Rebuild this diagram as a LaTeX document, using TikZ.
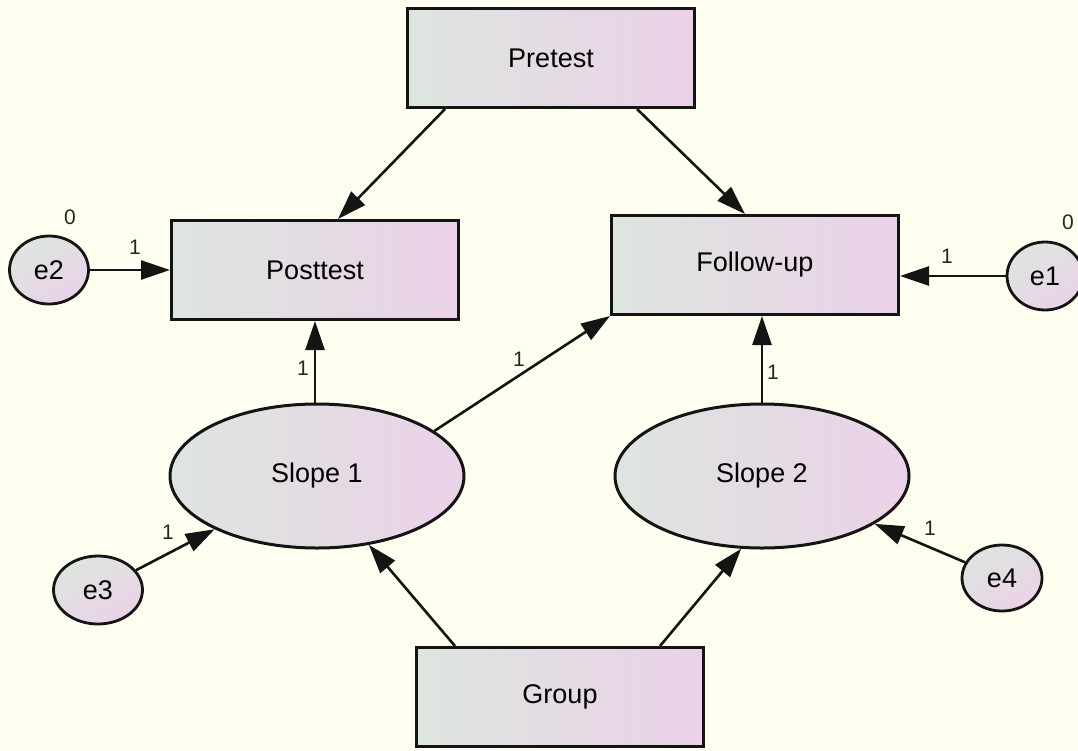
\documentclass[tikz,border=0pt]{standalone}
\usepackage{fontspec}
\setmainfont{Liberation Sans}
\usetikzlibrary{shapes.geometric,arrows.meta}
\definecolor{bgpaper}{RGB}{255,255,240}
\definecolor{shadeL}{RGB}{221,229,223}
\definecolor{shadeR}{RGB}{235,210,232}
\definecolor{inkline}{RGB}{20,20,20}
\tikzset{
  obsbox/.style={rectangle, draw=inkline, line width=3pt, left color=shadeL, right color=shadeR,
    minimum width=287pt, minimum height=99pt, inner sep=0pt, font=\fontsize{27}{32}\selectfont},
  latent/.style={ellipse, draw=inkline, line width=3pt, left color=shadeL, right color=shadeR,
    minimum width=294pt, minimum height=144pt, inner sep=0pt, font=\fontsize{27}{32}\selectfont},
  errnode/.style={ellipse, draw=inkline, line width=2.8pt, left color=shadeL, right color=shadeR,
    shading angle=30, inner sep=0pt, font=\fontsize{27}{32}\selectfont},
  lbl/.style={inner sep=0pt, text=black!85, font=\fontsize{21}{24}\selectfont},
  path/.style={draw=inkline, line width=2.6pt, -{Triangle[length=29pt,width=19pt]}},
}
\begin{document}
\begin{tikzpicture}[x=1pt,y=-1pt]
  \fill[bgpaper] (0,0) rectangle (1078,750);
  \useasboundingbox (0,0) rectangle (1078,750);

  % observed variables
  \node[obsbox] (pre)  at (551,58)  {Pretest};
  \node[obsbox] (post) at (315,270) {Posttest};
  \node[obsbox] (fu)   at (755,265) {Follow-up};
  \node[obsbox] (grp)  at (560,697) {Group};

  % latent slopes
  \node[latent] (s1) at (317,476) {Slope 1};
  \node[latent] (s2) at (762,476) {Slope 2};

  % error terms
  \node[errnode, minimum width=79pt, minimum height=68pt] (e2) at (49,270)  {e2};
  \node[errnode, minimum width=76pt, minimum height=68pt] (e1) at (1045,276) {e1};
  \node[errnode, minimum width=89pt, minimum height=68pt] (e3) at (98,590)  {e3};
  \node[errnode, minimum width=80pt, minimum height=66pt] (e4) at (1002,578) {e4};

  % regression paths
  \draw[path] ([xshift=-106pt]pre.south) -- ([xshift=23pt]post.north);
  \draw[path] ([xshift=86pt]pre.south) -- ([xshift=-10pt]fu.north);
  \draw[path] (e2.east) -- (e2.east -| post.west);
  \draw[path] (e1.west) -- (e1.west -| fu.east);
  \draw[path] (post.south |- s1.north) -- (post.south);
  \draw[path] (s1.21) -- (fu.south west);
  \draw[path] (s2.north) -- (s2.north |- fu.south);
  \draw[path] (e3) -- (s1);
  \draw[path] (e4) -- (s2);
  \draw[path] ([xshift=-105pt]grp.north) -- (s1.-53);
  \draw[path] ([xshift=100pt]grp.north) -- (s2.254);

  % variances and weights
  \node[lbl] (v2) at (70,217)   {0};
  \node[lbl] (v1) at (1068,222) {0};
  \node[lbl] (w2) at (135,247)  {1};
  \node[lbl] (w1) at (947,256)  {1};
  \node[lbl] (wa) at (303,368)  {1};
  \node[lbl] (wb) at (519,359)  {1};
  \node[lbl] (wc) at (773,372)  {1};
  \node[lbl] (w3) at (168,532)  {1};
  \node[lbl] (w4) at (930,528)  {1};
\end{tikzpicture}
\end{document}
